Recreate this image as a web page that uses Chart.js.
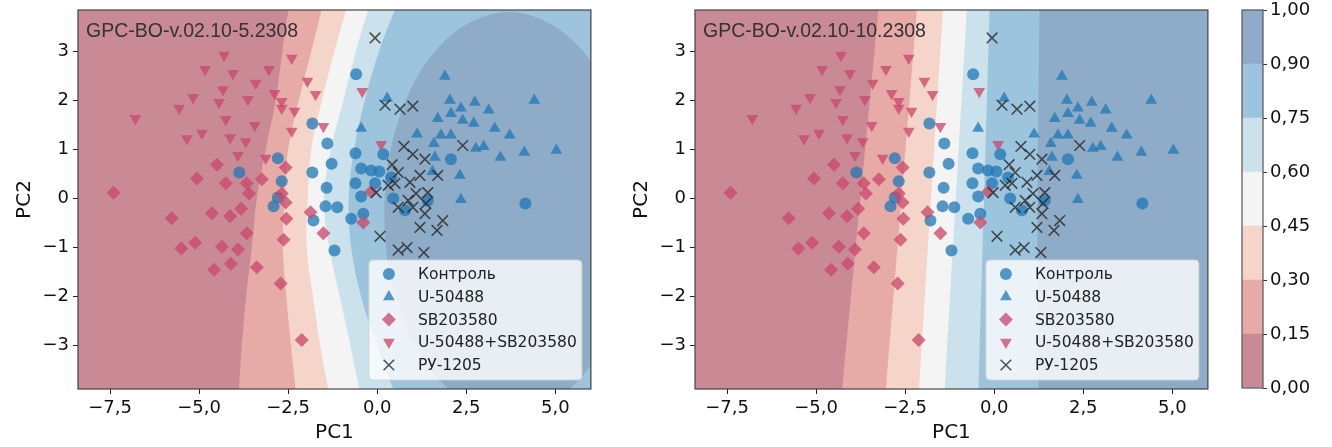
<!DOCTYPE html>
<html lang="ru">
<head>
<meta charset="UTF-8">
<title>GPC-BO-v.02.10</title>
<script src="https://cdn.jsdelivr.net/npm/chart.js"></script>
<style>
  body { margin: 0; background: #fff; width: 1332px; height: 447px; position: relative; overflow: hidden; }
  canvas { position: absolute; top: 0; }
  #left { left: 0; }
  #right { left: 617px; }
  #bar { left: 1230px; }
</style>
</head>
<body>
<canvas id="left" width="600" height="447"></canvas>
<canvas id="right" width="600" height="447"></canvas>
<canvas id="bar" width="102" height="447"></canvas>
<script>
// --- данные (PC1, PC2) ---
const kontrol = [[-3.87,0.53],[-2.79,0.82],[-2.68,0.35],[-2.79,0.02],[-2.91,-0.16],[-1.82,1.53],[-1.40,1.12],
  [-1.28,0.71],[-1.82,0.53],[-1.42,0.22],[-1.45,-0.16],[-1.12,-0.18],[-1.79,-0.45],[-1.20,-1.06],[-0.59,2.53],
  [-0.61,0.92],[0.17,0.90],[-0.45,0.61],[-0.17,0.57],[0.06,0.55],[-0.61,0.31],[-0.06,0.31],[0.39,0.43],
  [-0.45,0.04],[-0.73,-0.41],[-0.39,-0.31],[0.45,0.00],[0.78,-0.24],[2.07,0.80],[1.42,-0.04],[4.16,-0.10]];
const u50488 = [[1.90,2.49],[2.04,2.00],[2.35,1.84],[2.74,1.96],[3.13,1.80],[2.07,1.73],[2.40,1.59],[2.71,1.53],
  [1.70,1.63],[4.41,2.00],[1.12,1.31],[1.79,1.29],[2.07,1.29],[1.59,1.12],[3.30,1.43],[3.72,1.29],[2.77,1.02],
  [2.99,1.06],[3.46,0.84],[4.13,0.94],[5.03,0.98],[1.62,0.84],[-0.45,1.43],[0.28,2.04],[2.32,0.47],[2.35,-0.02],
  [1.55,0.55]];
const sb203580 = [[-4.50,0.69],[-2.57,0.63],[-5.06,0.41],[-4.25,0.31],[-3.24,0.39],[-3.66,0.31],[-3.60,0.10],
  [-7.40,0.12],[-2.68,0.10],[-2.57,-0.08],[-1.87,-0.28],[-4.64,-0.30],[-4.13,-0.36],[-3.82,-0.21],[-5.77,-0.40],
  [-2.55,-0.41],[-3.66,-0.71],[-5.50,-1.02],[-5.11,-0.90],[-4.36,-0.98],[-3.91,-1.04],[-4.11,-1.33],[-4.58,-1.45],
  [-3.38,-1.40],[-1.51,-0.71],[-2.63,-0.84],[-2.71,-1.73],[-2.12,-2.88],[-0.39,-0.49],[-0.17,0.14]];
const uSb = [[-4.30,2.92],[-2.40,2.86],[-4.83,2.63],[-3.04,2.63],[-4.05,2.55],[-1.96,2.39],[-3.41,2.35],
  [-4.33,2.22],[-2.88,2.14],[-1.73,2.12],[-5.17,2.06],[-3.63,2.02],[-4.44,1.96],[-2.68,1.98],[-5.56,1.84],
  [-2.68,1.84],[-2.32,1.78],[-6.79,1.63],[-4.25,1.61],[-3.44,1.49],[-2.40,1.37],[-1.51,1.47],[-5.34,1.22],
  [-4.92,1.33],[-4.13,1.24],[-3.69,1.16],[-3.91,0.88],[-3.13,0.82],[-0.42,2.18],[0.11,1.10]];
const ru1205 = [[-0.06,3.27],[0.22,1.90],[0.64,1.82],[1.00,1.88],[0.75,1.06],[1.00,0.90],[1.34,0.80],[2.40,1.08],
  [0.42,0.69],[0.59,0.53],[0.92,0.33],[1.20,0.47],[1.70,0.47],[1.42,0.12],[0.31,0.27],[-0.03,0.12],[1.09,0.10],
  [0.87,-0.04],[0.59,-0.18],[1.00,-0.18],[1.37,-0.10],[1.34,-0.31],[1.84,-0.45],[1.20,-0.59],[1.68,-0.65],
  [0.08,-0.77],[0.59,-1.05],[0.84,-1.00],[1.31,-1.10],[0.50,0.31]];

// границы уровней вероятности (левая модель)
const left15 = [[-2.2,4.6],[-2.49,3.84],[-2.85,2],[-3.13,1],[-3.38,0],[-3.52,-1],[-3.68,-2],[-3.8,-3],[-3.88,-3.88],[-3.92,-4.6]];
const left30 = [[-1.3,4.6],[-1.56,3.84],[-1.85,3],[-2.2,2],[-2.5,1],[-2.6,0],[-2.65,-1],[-2.55,-2],[-2.42,-3],[-2.29,-3.88],[-2.15,-4.6]];
const left45 = [[-0.55,4.6],[-0.87,3.84],[-1.2,3],[-1.55,2],[-1.85,1],[-1.95,0],[-1.98,-1],[-1.8,-2],[-1.6,-3],[-1.37,-3.88],[-1.15,-4.6]];
const left60 = [[0.15,4.6],[-0.25,3.84],[-0.6,3],[-0.95,2],[-1.3,1],[-1.5,0],[-1.35,-1],[-1.05,-2],[-0.75,-3],[-0.5,-3.88],[-0.2,-4.6]];
const left75 = [[1.0,4.6],[0.5,3.84],[0.05,3],[-0.35,2],[-0.65,1],[-0.8,0],[-0.73,-1],[-0.45,-2],[0,-3],[0.45,-3.88],[0.9,-4.6]];
const left90 = [[7.2,-0.3],[6.73,1.75],[5.45,3.25],[3.7,3.8],[1.95,3.25],[0.67,1.75],[0.2,-0.3],[0.67,-2.35],
  [1.95,-3.85],[3.7,-4.4],[5.45,-3.85],[6.73,-2.35],[7.2,-0.3]];
// границы уровней (правая модель)
const right15 = [[-3.16,4.6],[-3.25,3.84],[-4.27,-3.88],[-4.37,-4.6]];
const right30 = [[-2.08,4.6],[-2.17,3.84],[-3.04,-3.88],[-3.13,-4.6]];
const right45 = [[-1.37,4.6],[-1.44,3.84],[-2.11,-3.88],[-2.18,-4.6]];
const right60 = [[-0.71,4.6],[-0.77,3.84],[-1.39,-3.88],[-1.45,-4.6]];
const right75 = [[-0.1,4.6],[-0.13,3.84],[-0.44,-3.88],[-0.47,-4.6]];
const right90 = [[1.28,4.6],[1.27,3.84],[1.22,0],[1.24,-3.88],[1.25,-4.6]];

const levels = [0, 0.15, 0.30, 0.45, 0.60, 0.75, 0.90, 1.00];
const levelColors = ['#c98a96', '#e7aba7', '#f5d5ca', '#f4f4f4', '#cbe1ec', '#9cc4dd', '#8eabc8'];
const xTicks = [-7.5, -5, -2.5, 0, 2.5, 5];
const yTicks = [-3, -2, -1, 0, 1, 2, 3];
const xMin = -8.4, xMax = 6.0, yMin = -3.88, yMax = 3.84;

const FONT = "'DejaVu Sans', sans-serif";
const blue = 'rgba(31,119,180,0.75)';
const pink = 'rgba(200,70,105,0.75)';
const series = [
  { name: 'Контроль', data: kontrol, style: 'circle', r: 6, rot: 0, fill: blue, edge: blue, bw: 0 },
  { name: 'U-50488', data: u50488, style: 'triangle', r: 6.8, rot: 0, fill: blue, edge: blue, bw: 0 },
  { name: 'SB203580', data: sb203580, style: 'rectRot', r: 7, rot: 0, fill: pink, edge: pink, bw: 0 },
  { name: 'U-50488+SB203580', data: uSb, style: 'triangle', r: 6.8, rot: 180, fill: pink, edge: pink, bw: 0 },
  { name: 'РУ-1205', data: ru1205, style: 'crossRot', r: 7.5, rot: 0, fill: 'rgba(0,0,0,0)', edge: 'rgba(40,40,40,0.8)', bw: 1.6 }
];

const fmt = (v, d) => v.toFixed(d).replace('.', ',').replace('-', '\u2212');
const toXY = p => ({ x: p[0], y: p[1] });
const toRight = b => b.concat([[20, b[b.length - 1][1]], [20, b[0][1]]]);

const decor = {
  id: 'decor',
  beforeDatasetsDraw(chart) {
    const { ctx, chartArea: a } = chart;
    ctx.save();
    ctx.fillStyle = levelColors[0];
    ctx.fillRect(a.left, a.top, a.right - a.left, a.bottom - a.top);
    ctx.restore();
  },
  afterDatasetsDraw(chart, args, opts) {
    const { ctx, chartArea: a } = chart;
    ctx.save();
    // заголовок модели
    ctx.font = '19.5px "Liberation Sans", Arial, sans-serif';
    ctx.fillStyle = '#333';
    ctx.textBaseline = 'alphabetic';
    ctx.fillText(opts.title, a.left + 8, a.top + 27);
    // легенда
    const w = 213, h = 120;
    const x0 = a.right - 9 - w, y0 = a.bottom - 9 - h;
    ctx.beginPath();
    ctx.roundRect(x0, y0, w, h, 4);
    ctx.fillStyle = 'rgba(255,255,255,0.8)';
    ctx.fill();
    ctx.strokeStyle = 'rgba(210,210,210,0.9)';
    ctx.lineWidth = 1;
    ctx.stroke();
    ctx.font = '15.5px ' + FONT;
    ctx.textBaseline = 'middle';
    series.forEach((s, i) => {
      const cy = y0 + 14 + i * 22.75;
      ctx.fillStyle = s.fill;
      ctx.strokeStyle = s.edge;
      ctx.lineWidth = s.bw;
      Chart.helpers.drawPoint(ctx, { pointStyle: s.style, radius: s.r, rotation: s.rot, borderWidth: s.bw }, x0 + 20, cy);
      ctx.fillStyle = '#222';
      ctx.fillText(s.name, x0 + 49, cy + 1);
    });
    ctx.restore();
  },
  afterDraw(chart) {
    const { ctx, chartArea: a } = chart;
    ctx.save();
    ctx.strokeStyle = '#444';
    ctx.lineWidth = 1.2;
    ctx.strokeRect(a.left, a.top, a.right - a.left, a.bottom - a.top);
    ctx.restore();
  }
};

function makePlot(id, title, bounds, padRight) {
  const layers = bounds.map((b, i) => ({
    type: 'line',
    data: b.map(toXY),
    backgroundColor: levelColors[i + 1],
    borderWidth: 0,
    pointRadius: 0,
    fill: 'shape',
    tension: 0.35,
    order: 100 - i
  }));
  const points = series.map((s, i) => ({
    type: 'scatter',
    label: s.name,
    data: s.data.map(toXY),
    pointStyle: s.style,
    pointRadius: s.r,
    pointRotation: s.rot,
    pointBackgroundColor: s.fill,
    pointBorderColor: s.edge,
    pointBorderWidth: s.bw,
    order: 10 - i
  }));
  const tickFont = { family: FONT, size: 18, lineHeight: 1 };
  return new Chart(document.getElementById(id), {
    type: 'scatter',
    data: { datasets: layers.concat(points) },
    options: {
      animation: false,
      responsive: false,
      events: [],
      layout: { padding: { top: 10, right: padRight, left: 0, bottom: 0 } },
      elements: { line: { capBezierPoints: false } },
      plugins: { legend: { display: false }, tooltip: { enabled: false }, decor: { title } },
      scales: {
        x: {
          type: 'linear', min: xMin, max: xMax,
          afterBuildTicks: s => { s.ticks = xTicks.map(v => ({ value: v })); },
          afterFit: s => { s.height = 58; s.paddingLeft = 0; s.paddingRight = 0; },
          ticks: { callback: v => fmt(v, 1), font: tickFont, color: '#111', padding: 5, maxRotation: 0, autoSkip: false },
          grid: { drawOnChartArea: false, tickLength: 5, color: '#222' },
          border: { display: false },
          title: { display: true, text: 'PC1', font: { family: FONT, size: 20 }, color: '#111', padding: { top: 0, bottom: 2 } }
        },
        y: {
          type: 'linear', min: yMin, max: yMax,
          afterBuildTicks: s => { s.ticks = yTicks.map(v => ({ value: v })); },
          afterFit: s => { s.width = 78; s.paddingTop = 0; s.paddingBottom = 0; },
          ticks: { callback: v => fmt(v, 0), font: tickFont, color: '#111', padding: 4, autoSkip: false },
          grid: { drawOnChartArea: false, tickLength: 5, color: '#222' },
          border: { display: false },
          title: { display: true, text: 'PC2', font: { family: FONT, size: 20 }, color: '#111', padding: { top: 13, bottom: 0 } }
        }
      }
    },
    plugins: [decor]
  });
}

makePlot('left', 'GPC-BO-v.02.10-5.2308',
  [toRight(left15), toRight(left30), toRight(left45), toRight(left60), toRight(left75), left90], 6);
makePlot('right', 'GPC-BO-v.02.10-10.2308',
  [toRight(right15), toRight(right30), toRight(right45), toRight(right60), toRight(right75), toRight(right90)], 7);

// цветовая шкала
const frame = {
  id: 'frame',
  afterDraw(chart) {
    const { ctx, chartArea: a } = chart;
    ctx.save();
    ctx.strokeStyle = '#555';
    ctx.lineWidth = 1.2;
    ctx.strokeRect(a.left, a.top, a.right - a.left, a.bottom - a.top);
    ctx.restore();
  }
};
new Chart(document.getElementById('bar'), {
  type: 'bar',
  data: {
    labels: [''],
    datasets: levelColors.map((c, i) => ({
      data: [[i, i + 1]], backgroundColor: c, borderWidth: 0,
      grouped: false, barPercentage: 1, categoryPercentage: 1
    }))
  },
  options: {
    animation: false,
    responsive: false,
    events: [],
    layout: { padding: { left: 12, top: 10, bottom: 59, right: 0 } },
    plugins: { legend: { display: false }, tooltip: { enabled: false } },
    scales: {
      x: { display: false },
      y: {
        position: 'right', min: 0, max: levels.length - 1,
        afterBuildTicks: s => { s.ticks = levels.map((v, i) => ({ value: i })); },
        afterFit: s => { s.width = 69; s.paddingTop = 0; s.paddingBottom = 0; },
        ticks: { callback: v => fmt(levels[v], 2), font: { family: FONT, size: 18, lineHeight: 1 }, color: '#111', padding: 3 },
        grid: { drawOnChartArea: false, tickLength: 4, color: '#333' },
        border: { display: false }
      }
    }
  },
  plugins: [frame]
});
</script>
</body>
</html>
